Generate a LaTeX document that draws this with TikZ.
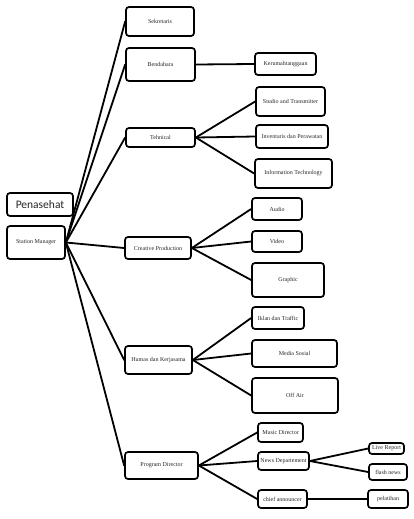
\documentclass[tikz,border=0pt]{standalone}
\usepackage{fontspec}
\setmainfont{Liberation Serif}
\newfontfamily\calibfont{Carlito}
\tikzset{
  orgbox/.style={draw=black, line width=1.7pt, rounded corners=3pt, inner sep=0pt,
    align=center, text=black!85, font=\fontsize{6}{7}\selectfont},
  bigbox/.style={orgbox, font=\calibfont\fontsize{11.5}{13}\selectfont},
  link/.style={line width=1.8pt, line cap=round},
}
\begin{document}
\begin{tikzpicture}[x=1pt, y=-1pt]
\useasboundingbox (0,0) rectangle (414,519);
% root
\node[bigbox, minimum width=66pt, minimum height=23pt] (pen) at (40,204.5) {Penasehat};
\node[orgbox, minimum width=58pt, minimum height=33pt] (sm) at (36,242.5) {Station Manager};
% first level
\node[orgbox, minimum width=68pt, minimum height=29pt] (sek) at (160,21.5) {Sekretaris};
\node[orgbox, minimum width=69pt, minimum height=33pt] (ben) at (160.5,64.5) {Bendahara};
\node[orgbox, minimum width=69pt, minimum height=19pt] (teh) at (160.5,137.5) {Tehnical};
\node[orgbox, minimum width=66pt, minimum height=22pt] (cre) at (158,248) {Creative Production};
\node[orgbox, minimum width=67pt, minimum height=28pt] (hum) at (158.5,360) {Humas dan Kerjasama};
\node[orgbox, minimum width=73pt, minimum height=27pt] (pro) at (161.5,465.5) {Program Director};
% second level
\node[orgbox, minimum width=61pt, minimum height=22pt] (ker) at (285.5,64) {Kerumahtanggaan};
\node[orgbox, minimum width=69pt, minimum height=29pt] (stu) at (290.5,101.5) {Studio and Transmitter};
\node[orgbox, minimum width=72pt, minimum height=23pt] (inv) at (292,136.5) {Inventaris dan Perawatan};
\node[orgbox, minimum width=77pt, minimum height=29pt] (inf) at (293.5,173.5) {Information Technology};
\node[orgbox, minimum width=50pt, minimum height=22pt] (aud) at (277,209) {Audio};
\node[orgbox, minimum width=50pt, minimum height=21pt] (vid) at (277,241.5) {Video};
\node[orgbox, minimum width=72pt, minimum height=34pt] (gra) at (288,280) {Graphic};
\node[orgbox, minimum width=52pt, minimum height=22pt] (ikl) at (278,318) {Iklan dan Traffic};
\node[orgbox, minimum width=85pt, minimum height=27pt] (med) at (294.5,353.5) {Media Sosial};
\node[orgbox, minimum width=86pt, minimum height=35pt] (off) at (295,395.5) {Off Air};
\node[orgbox, minimum width=45pt, minimum height=19pt] (mus) at (280.5,432.5) {Music Director};
\node[orgbox, minimum width=51pt, minimum height=18pt] (new) at (283.5,461) {News Departement};
\node[orgbox, minimum width=49pt, minimum height=18pt] (chi) at (282.5,499) {chief announcer};
% third level
\node[orgbox, minimum width=35pt, minimum height=11pt] (liv) at (386.5,448.5) {Live Report};
\node[orgbox, minimum width=38pt, minimum height=16pt] (fla) at (388,472) {flash news};
\node[orgbox, minimum width=40pt, minimum height=18pt] (pel) at (388,499) {pelatihan};
% connectors
\foreach \t in {sek,ben,teh,cre,hum,pro}
  \draw[link] (sm.east) -- (\t.west);
\draw[link] (ben.east) -- (ker.west);
\foreach \t in {stu,inv,inf}
  \draw[link] (teh.east) -- (\t.west);
\foreach \t in {aud,vid,gra}
  \draw[link] (cre.east) -- (\t.west);
\foreach \t in {ikl,med,off}
  \draw[link] (hum.east) -- (\t.west);
\foreach \t in {mus,new,chi}
  \draw[link] (pro.east) -- (\t.west);
\draw[link] (new.east) -- (liv.west);
\draw[link] (new.east) -- (fla.west);
\draw[link] (chi.east) -- (pel.west);
\end{tikzpicture}
\end{document}
